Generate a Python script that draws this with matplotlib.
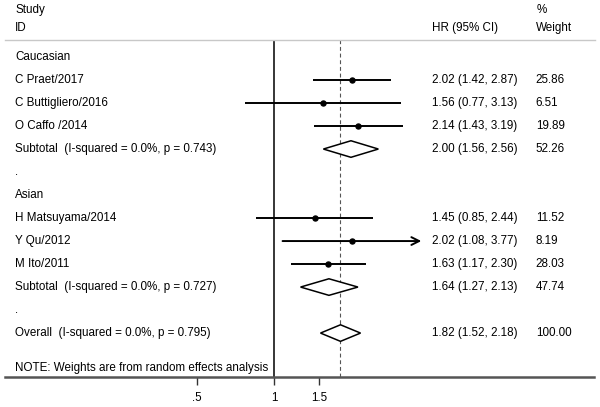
import matplotlib
matplotlib.use("Agg")
from matplotlib import pyplot as plt
from matplotlib.lines import Line2D
from matplotlib.patches import Polygon
from matplotlib.transforms import blended_transform_factory
import numpy as np

plt.rcParams['font.family'] = ['Liberation Sans', 'DejaVu Sans']

# rows of the forest plot, top to bottom
labels = ["Caucasian", "C Praet/2017", "C Buttigliero/2016", "O Caffo /2014",
          "Subtotal  (I-squared = 0.0%, p = 0.743)", ".",
          "Asian", "H Matsuyama/2014", "Y Qu/2012", "M Ito/2011",
          "Subtotal  (I-squared = 0.0%, p = 0.727)", ".",
          "Overall  (I-squared = 0.0%, p = 0.795)"]
kind = ['group', 'study', 'study', 'study', 'pooled', 'blank',
        'group', 'study', 'study', 'study', 'pooled', 'blank', 'pooled']
hr = [None, 2.02, 1.56, 2.14, 2.00, None, None, 1.45, 2.02, 1.63, 1.64, None, 1.82]
lo = [None, 1.42, 0.77, 1.43, 1.56, None, None, 0.85, 1.08, 1.17, 1.27, None, 1.52]
hi = [None, 2.87, 3.13, 3.19, 2.56, None, None, 2.44, 3.77, 2.30, 2.13, None, 2.18]
weight = [None, 25.86, 6.51, 19.89, 52.26, None, None, 11.52, 8.19, 28.03, 47.74, None, 100.00]
overall_hr = 1.82

xticks = [0.5, 1, 1.5]
xticklabels = ['.5', '1', '1.5']
xmax = 3.77
note = "NOTE: Weights are from random effects analysis"

fs = 8.4

fig = plt.figure(figsize=(6, 4.07), dpi=100)
ax = fig.add_axes([0.2112, 1 - 377 / 407, 0.491, 337 / 407])
ax.set_xscale('log')
ax.set_xlim(1 / xmax, xmax)
ax.set_ylim(13.91, -0.74)
for s in ax.spines.values():
    s.set_visible(False)
ax.set_yticks([])
ax.set_xticks(xticks)
ax.set_xticklabels(xticklabels)
ax.xaxis.set_minor_locator(plt.NullLocator())
ax.tick_params(axis='x', direction='out', length=6, width=1, color='#333333',
               labelsize=fs, pad=5)

ax.axvline(1, color='black', lw=1.1)
ax.axvline(overall_hr, color='#555555', lw=0.8, ls=(0, (3.5, 2.5)))

for i in range(len(labels)):
    if kind[i] == 'study':
        top = min(hi[i], xmax)
        if hi[i] >= xmax:
            ax.annotate('', xy=(xmax, i), xytext=(lo[i], i),
                        arrowprops=dict(arrowstyle='->', lw=1.4, color='black',
                                        mutation_scale=14, shrinkA=0, shrinkB=0),
                        annotation_clip=False)
        else:
            ax.plot([lo[i], top], [i, i], color='black', lw=1.4, solid_capstyle='butt')
        ax.plot(hr[i], i, 'o', color='black', ms=3.6)
    elif kind[i] == 'pooled':
        h = 0.36
        d = Polygon([[lo[i], i], [hr[i], i - h], [hi[i], i], [hr[i], i + h]],
                    closed=True, facecolor='white', edgecolor='black', lw=1.1, zorder=3)
        ax.add_patch(d)

tr = blended_transform_factory(fig.transFigure, ax.transData)
for i in range(len(labels)):
    ax.text(0.025, i, labels[i], transform=tr, fontsize=fs, va='center', ha='left')
    if hr[i] is not None:
        ax.text(0.72, i, "%.2f (%.2f, %.2f)" % (hr[i], lo[i], hi[i]), transform=tr,
                fontsize=fs, va='center', ha='left')
        ax.text(0.893, i, "%.2f" % weight[i], transform=tr, fontsize=fs, va='center', ha='left')

ax.text(0.025, (10 - 57) / 23, "Study", transform=tr, fontsize=fs, va='center')
ax.text(0.025, (28 - 57) / 23, "ID", transform=tr, fontsize=fs, va='center')
ax.text(0.72, (28 - 57) / 23, "HR (95% CI)", transform=tr, fontsize=fs, va='center')
ax.text(0.895, (10 - 57) / 23, "%", transform=tr, fontsize=fs, va='center')
ax.text(0.893, (28 - 57) / 23, "Weight", transform=tr, fontsize=fs, va='center')
ax.text(0.025, (368 - 57) / 23, note, transform=tr, fontsize=fs, va='center')

fig.add_artist(Line2D([5 / 600, 595 / 600], [1 - 40 / 407, 1 - 40 / 407],
                      color='#c8c8c8', lw=1, transform=fig.transFigure))
fig.add_artist(Line2D([5 / 600, 594 / 600], [1 - 377 / 407, 1 - 377 / 407],
                      color='#555555', lw=1.8, transform=fig.transFigure))

plt.savefig('out.png', dpi=100)
plt.close()
